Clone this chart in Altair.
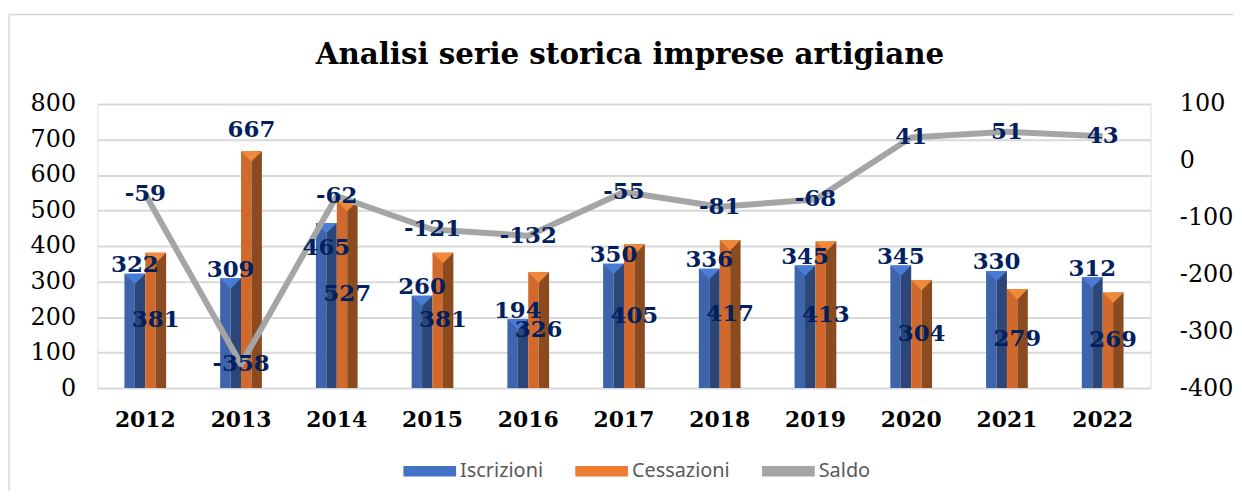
import altair as alt
import pandas as pd

anni = ["2012", "2013", "2014", "2015", "2016", "2017", "2018", "2019", "2020", "2021", "2022"]
iscrizioni = [322, 309, 465, 260, 194, 350, 336, 345, 345, 330, 312]
cessazioni = [381, 667, 527, 381, 326, 405, 417, 413, 304, 279, 269]
saldo = [-59, -358, -62, -121, -132, -55, -81, -68, 41, 51, 43]
serie = ["Iscrizioni", "Cessazioni", "Saldo"]
colori_serie = ["#4472C4", "#ED7D31", "#A5A5A5"]
titolo = "Analisi serie storica imprese artigiane"

df = pd.DataFrame({"anno": anni, "Iscrizioni": iscrizioni,
                   "Cessazioni": cessazioni, "Saldo": saldo})
df_leg = pd.DataFrame({"serie": serie})
df_one = pd.DataFrame({"titolo": [titolo]})

W, H = 1060, 286
SERIF = "DejaVu Serif"
NAVY = "#002060"
BW = 10.5

x_enc = alt.X("anno:N", sort=anni, title=None,
              scale=alt.Scale(paddingInner=0, paddingOuter=0),
              axis=alt.Axis(labelAngle=0, labelFont=SERIF, labelFontSize=22,
                            labelFontWeight="bold", labelColor="#000000",
                            labelPadding=22, domain=False, ticks=False, grid=False))

axis_left = alt.Axis(values=list(range(0, 801, 100)), orient="left", grid=True,
                     gridColor="#D9D9D9", gridWidth=2, domain=False, ticks=False,
                     labelFont=SERIF, labelFontSize=24, labelColor="#000000",
                     labelPadding=22, title=None, labelExpr="toString(datum.value)")
sc_left = alt.Scale(domain=[0, 800], nice=False, zero=True)
sc_right = alt.Scale(domain=[-400, 100], nice=False, zero=False)


def yl(field):
    return alt.Y(field, scale=sc_left, axis=axis_left)


base = alt.Chart(df)

bars = alt.layer(
    base.mark_bar(width=BW, color="#3E64AC", xOffset=-1.5 * BW).encode(x=x_enc, y=yl("Iscrizioni:Q")),
    base.mark_bar(width=BW, color="#2B4677", xOffset=-0.5 * BW).encode(x=x_enc, y=yl("Iscrizioni:Q")),
    base.mark_bar(width=BW, color="#D0692B", xOffset=0.5 * BW).encode(x=x_enc, y=yl("Cessazioni:Q")),
    base.mark_bar(width=BW, color="#8C4A1F", xOffset=1.5 * BW).encode(x=x_enc, y=yl("Cessazioni:Q")),
    base.mark_point(shape="M-1,0L1,0L0,1Z", size=(2 * BW) ** 2, filled=True, opacity=1,
                    color="#4A7BD5", strokeWidth=0, xOffset=-BW).encode(x=x_enc, y=yl("Iscrizioni:Q")),
    base.mark_point(shape="M-1,0L1,0L0,1Z", size=(2 * BW) ** 2, filled=True, opacity=1,
                    color="#F0893C", strokeWidth=0, xOffset=BW).encode(x=x_enc, y=yl("Cessazioni:Q")),
    alt.Chart(df_leg).mark_square(opacity=0).encode(
        color=alt.Color("serie:N", sort=serie,
                        scale=alt.Scale(domain=serie, range=colori_serie),
                        legend=alt.Legend(title=None, orient="none", legendX=308, legendY=343,
                                          direction="horizontal",
                                          symbolType="M-1,-0.2L1,-0.2L1,0.2L-1,0.2Z",
                                          symbolSize=2809, symbolOpacity=1, symbolStrokeWidth=0,
                                          labelFont="Noto Sans", labelFontSize=20,
                                          labelColor="#595959", labelOffset=4,
                                          columnPadding=32))),
)

line = base.mark_line(color="#A5A5A5", strokeWidth=6, strokeJoin="round").encode(
    x=x_enc,
    y=alt.Y("Saldo:Q", scale=sc_right,
            axis=alt.Axis(values=list(range(-400, 101, 100)), orient="right", grid=False,
                          domain=False, ticks=False, labelFont=SERIF, labelFontSize=24,
                          labelColor="#000000", labelPadding=29, title=None,
                          labelExpr="toString(datum.value)")))

txt = dict(font=SERIF, fontSize=23, fontWeight="bold", color=NAVY, baseline="middle")

bar_labels = alt.layer(
    base.transform_calculate(
        pos="datum.anno == '2014' ? datum.Iscrizioni - 70 : datum.Iscrizioni + 24",
        lab="toString(datum.Iscrizioni)"
    ).mark_text(xOffset=-BW, **txt).encode(
        x=x_enc, y=alt.Y("pos:Q", scale=sc_left, axis=None), text="lab:N"),
    base.transform_calculate(
        pos="datum.anno == '2013' ? datum.Cessazioni + 60 : datum.Cessazioni / 2",
        lab="toString(datum.Cessazioni)"
    ).mark_text(xOffset=BW, **txt).encode(
        x=x_enc, y=alt.Y("pos:Q", scale=sc_left, axis=None), text="lab:N"),
)

saldo_labels = base.transform_calculate(lab="toString(datum.Saldo)").mark_text(**txt).encode(
    x=x_enc, y=alt.Y("Saldo:Q", scale=sc_right, axis=None), text="lab:N")

box = alt.Chart(df_one).mark_rect(fill="transparent", stroke="#D9D9D9", strokeWidth=1.5).encode(
    x=alt.value(-89), x2=alt.value(1200), y=alt.value(-90), y2=alt.value(420))

title = alt.Chart(df_one).mark_text(font=SERIF, fontSize=29.5, fontWeight="bold", color="#000000",
                                    baseline="alphabetic", align="center").encode(
    x=alt.value(536), y=alt.value(-40), text="titolo:N")

chart = alt.layer(box, title, bars, line, bar_labels, saldo_labels).resolve_scale(
    y="independent"
).properties(
    width=W, height=H,
    autosize=alt.AutoSizeParams(type="none"),
    padding={"left": 90, "top": 95, "right": 84, "bottom": 102},
).configure_view(stroke=None).configure(background="white")

chart.save("out.html", embed_options={"renderer": "svg", "actions": False})
